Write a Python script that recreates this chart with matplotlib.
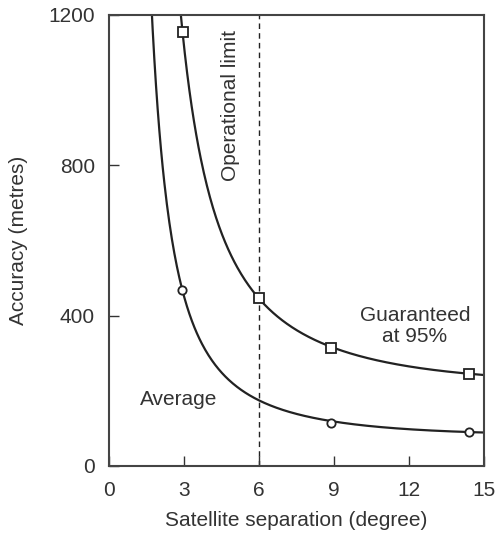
import numpy as np
import matplotlib
matplotlib.use("Agg")
import matplotlib.pyplot as plt

plt.rcParams['font.family'] = ['Liberation Sans', 'DejaVu Sans']

# Curve traces
avg_x = [1.73, 2.15, 2.44, 2.9, 3.37, 4.3, 5.1, 6.03, 7.24, 8.88, 11.64, 14.4, 15.0]
avg_y = [1200, 788, 636, 468, 362, 274, 221, 174, 144, 115, 98, 91, 90]
gua_x = [2.9, 2.95, 3.57, 4.44, 5.24, 6.0, 7.24, 8.88, 11.64, 14.4, 15.0]
gua_y = [1200, 1154, 814, 637, 530, 446, 371, 314, 269, 244, 244]

# Marker points
avg_mx = [2.9, 8.88, 14.4]
avg_my = [468, 115, 91]
gua_mx = [2.95, 6.0, 8.88, 14.4]
gua_my = [1154, 446, 314, 244]

xticks = [0, 3, 6, 9, 12, 15]
yticks = [0, 400, 800, 1200]
op_limit = 6


def smooth_curve(x, y, n=400):
    # smooth rendering of read trace: low-order fit in log-log space
    lx = np.log(np.asarray(x, float)); ly = np.log(np.asarray(y, float))
    c = np.polyfit(lx, ly, 3)
    xs = np.linspace(x[0] - 0.05, x[-1], n)
    return xs, np.exp(np.polyval(c, np.log(xs)))


fig = plt.figure(figsize=(4.95, 5.35), dpi=100)
ax = fig.add_axes([0.2202, 0.129, 0.7576, 0.843])
col = '#222222'
tcol = '#333333'
fs = 15

for cx, cy in [(avg_x, avg_y), (gua_x, gua_y)]:
    xs, ys = smooth_curve(cx, cy)
    ax.plot(xs, ys, color=col, lw=1.6, zorder=2)

ax.plot(avg_mx, avg_my, 'o', ms=6, mfc='white', mec=col, mew=1.3, zorder=3)
ax.plot(gua_mx, gua_my, 's', ms=6.5, mfc='white', mec=col, mew=1.3, zorder=3)

ax.axvline(op_limit, color=col, lw=1, ls=(0, (4, 3)), zorder=1)

ax.set_xlim(0, 15)
ax.set_ylim(0, 1200)
ax.set_xticks(xticks)
ax.set_yticks(yticks)
ax.tick_params(direction='in', length=7, width=1, colors=tcol, labelsize=fs,
               top=False, right=False)
ax.tick_params(axis='y', pad=10)
ax.tick_params(axis='x', pad=11)
for s in ax.spines.values():
    s.set_linewidth(1.5)
    s.set_color('#444444')

ax.set_xlabel('Satellite separation (degree)', fontsize=fs, color=tcol)
ax.set_ylabel('Accuracy (metres)', fontsize=fs, color=tcol)
ax.xaxis.set_label_coords(0.5, -0.10)
ax.yaxis.set_label_coords(-0.215, 0.5)

ax.text(4.84, 960, 'Operational limit', rotation=90, ha='center', va='center',
        fontsize=fs, color=tcol)
ax.text(12.24, 372, 'Guaranteed\nat 95%', ha='center', va='center', fontsize=fs,
        color=tcol, linespacing=1.1)
ax.text(2.8, 176, 'Average', ha='center', va='center', fontsize=fs, color=tcol)

fig.savefig('out.png', dpi=100)
